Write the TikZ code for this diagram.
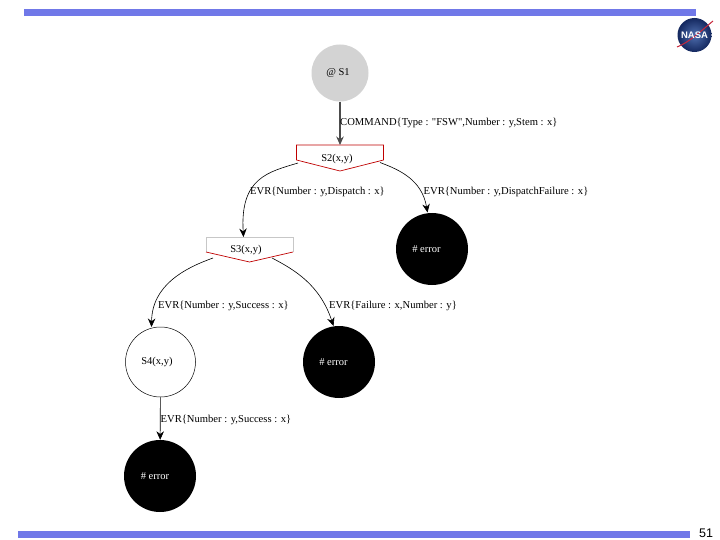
\documentclass[tikz,border=0pt]{standalone}
\usepackage{fontspec}
\setmainfont{Liberation Serif}[Ligatures=TeXOff]
\setsansfont{Liberation Sans}
\usetikzlibrary{arrows.meta}
\definecolor{barblue}{HTML}{7078E8}
\definecolor{startgray}{HTML}{D3D3D3}
\definecolor{swoosh}{HTML}{C8283C}
\definecolor{globeout}{HTML}{14285F}
\definecolor{globein}{HTML}{5070B0}
\tikzset{
  x=1pt,y=-1pt,
  statecirc/.style={circle,inner sep=0pt,font=\fontsize{10.5}{12}\selectfont},
  startstate/.style={statecirc,fill=startgray,minimum size=57pt},
  errorstate/.style={statecirc,fill=black,text=white,minimum size=72pt},
  plainstate/.style={statecirc,draw=black,line width=0.5pt,minimum size=70pt},
  pentbox/.style={inner sep=0pt,font=\fontsize{10.5}{12}\selectfont},
  pentline/.style={line width=0.7pt},
  edge/.style={draw=black,line width=0.6pt,-{Stealth[length=8.5pt,width=7.5pt]}},
  elabel/.style={anchor=west,inner sep=0pt,font=\fontsize{10.6}{12}\selectfont},
  bar/.style={fill=barblue,draw=none}
}
\begin{document}
\begin{tikzpicture}
\useasboundingbox (0,0) rectangle (720,540);
\fill[white] (0,0) rectangle (720,540);
% bars
\fill[bar] (24,9) rectangle (696,16);
\fill[bar] (18,531) rectangle (690,538);
\node[inner sep=0pt,font=\sffamily\fontsize{12.5}{13}\selectfont] (pageno) at (706,533.5) {51};
% NASA logo
\shade[inner color=globein,outer color=globeout] (694.5,35) circle (17);
\draw[swoosh,line width=1pt] (677,47) .. controls (690,42) and (702,30) .. (713,21);
\node[inner sep=0pt,text=white,font=\sffamily\bfseries\fontsize{9.5}{10}\selectfont] (nasa) at (694.5,35) {NASA};
% states
\node[startstate] (s1) at (340,73) {\raisebox{-1pt}{@ S1}\hspace*{4pt}};
\node[errorstate] (e1) at (432,249) {\# error\hspace*{11pt}};
\node[errorstate] (e2) at (339,362) {\raisebox{-0.7pt}{\# error}\hspace*{11pt}};
\node[plainstate] (s4) at (160.5,362) {\raisebox{-0.7pt}{S4(x,y)}\hspace*{7pt}};
\node[errorstate] (e3) at (160,476) {\raisebox{-0.7pt}{\# error}\hspace*{10pt}};
% pentagon states
\coordinate (s2tl) at (296.5,145);
\coordinate (s2tr) at (383.5,145);
\coordinate (s2br) at (383.5,160);
\coordinate (s2tip) at (340,171);
\coordinate (s2bl) at (296.5,160);
\coordinate (s3tl) at (206,237);
\coordinate (s3tr) at (293,237);
\coordinate (s3br) at (293,252);
\coordinate (s3tip) at (249.5,262);
\coordinate (s3bl) at (206,252);
\draw[pentline,draw=red!75!black] (s2tl) -- (s2tr) -- (s2br) -- (s2tip) -- (s2bl) -- cycle;
\node[pentbox] (s2) at (337,158.5) {S2(x,y)};
\draw[pentline,draw=black!22,line width=0.5pt] (s3bl) -- (s3tl) -- (s3tr) -- (s3br);
\draw[pentline,draw=red!75!black] (s3br) -- (s3tip) -- (s3bl);
\node[pentbox] (s3) at (246,249.5) {S3(x,y)};
% connectors
\coordinate (s2a) at (298,163);
\coordinate (s2b) at (380,162.5);
\coordinate (s3a) at (213,258);
\coordinate (s3b) at (272,258);
\draw[edge,line width=1.1pt,draw=black!70] (s1) -- (s2tip |- s2tl);
\draw[edge] (s2a) .. controls (268,172) and (240,178) .. (243.5,237);
\draw[edge] (s2b) .. controls (400,170) and (422,180) .. (427.5,212.5);
\draw[edge] (s3a) .. controls (185,268) and (152,285) .. (151.5,327);
\draw[edge] (s3b) .. controls (295,270) and (320,285) .. (333.5,326);
\draw[edge] (s4) -- (e3);
% labels
\node[elabel] (l1) at (340,122.5) {COMMAND\{Type : "FSW",Number : y,Stem : x\}};
\node[elabel] (l2) at (250,192) {EVR\{Number : y,Dispatch : x\}};
\node[elabel] (l3) at (423.5,192) {EVR\{Number : y,DispatchFailure : x\}};
\node[elabel] (l4) at (158,306) {EVR\{Number : y,Success : x\}};
\node[elabel] (l5) at (329,306) {EVR\{Failure : x,Number : y\}};
\node[elabel] (l6) at (160.5,419.5) {EVR\{Number : y,Success : x\}};
\end{tikzpicture}
\end{document}
